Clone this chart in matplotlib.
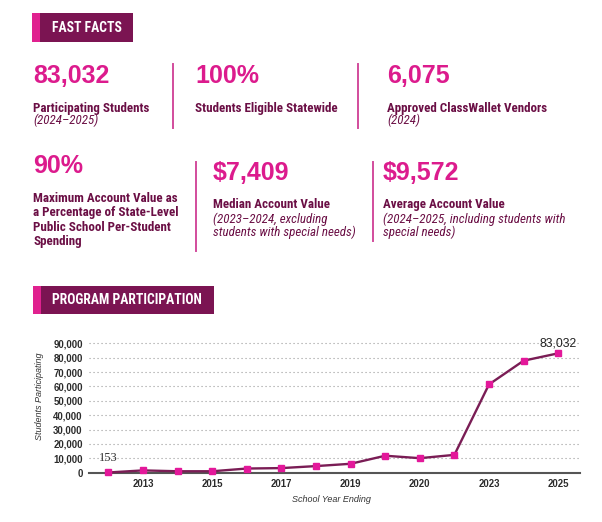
import matplotlib
matplotlib.use("Agg")
import numpy as np
import matplotlib.pyplot as plt
from matplotlib import font_manager as fm
from matplotlib.patches import Rectangle

# ---------------- data ----------------
fact_values = ["83,032", "100%", "6,075", "90%", "$7,409", "$9,572"]
fact_titles = [
    "Participating Students",
    "Students Eligible Statewide",
    "Approved ClassWallet Vendors",
    "Maximum Account Value as\na Percentage of State-Level\nPublic School Per-Student\nSpending",
    "Median Account Value",
    "Average Account Value",
]
fact_notes = [
    "(2024\u20132025)",
    "",
    "(2024)",
    "",
    "(2023\u20132024, excluding\nstudents with special needs)",
    "(2024\u20132025, including students with\nspecial needs)",
]
section_titles = ["FAST FACTS", "PROGRAM PARTICIPATION"]

participants = [153, 1600, 1000, 1000, 2900, 3200, 4600, 6200, 11800, 10100, 12400, 61400, 77900, 83032]
tick_positions = [1, 3, 5, 7, 9, 11, 13]
tick_labels = ["2013", "2015", "2017", "2019", "2020", "2023", "2025"]
y_ticks = list(range(0, 90001, 10000))
x_title = "School Year Ending"
y_title = "Students Participating"

# ---------------- fonts ----------------
plt.rcParams["font.family"] = ["Liberation Sans", "DejaVu Sans"]


def pick_font(cands, weight="normal", style="normal", stretch="normal"):
    for fam in cands:
        try:
            path = fm.findfont(fm.FontProperties(family=fam, weight=weight, style=style, stretch=stretch),
                               fallback_to_default=False)
            return fm.FontProperties(fname=path)
        except Exception:
            continue
    return fm.FontProperties(family="DejaVu Sans", weight=weight, style=style)


cond_cands = ["Liberation Sans Narrow", "Roboto Condensed", "DejaVu Sans Condensed", "DejaVu Sans"]
cond_bold = pick_font(cond_cands, weight="bold", stretch="condensed")
cond_ital = pick_font(cond_cands, weight="normal", style="italic", stretch="condensed")
big_font = pick_font(["Liberation Sans", "Roboto"], weight="bold")

# ---------------- figure ----------------
W, H = 602, 522
fig = plt.figure(figsize=(W / 100, H / 100), dpi=100)
fig.patch.set_facecolor("white")

MAROON = "#7b1452"
PINK = "#dc1b8d"
LABEL = "#6b0f45"
SEP = "#d24c9c"


def fx(x):
    return x / W


def fy(y):
    return 1 - y / H


def ftext(x, y, s, fp=None, size=10, **kw):
    kw.setdefault("va", "baseline")
    t = fig.text(fx(x), fy(y), s, **kw)
    if fp is not None:
        t.set_fontproperties(fp)
    t.set_fontsize(size)
    return t


def header(x0, x1, y0, y1, text):
    fig.add_artist(Rectangle((fx(x0), fy(y1)), fx(x1) - fx(x0), (y1 - y0) / H,
                             transform=fig.transFigure, facecolor=MAROON, edgecolor="none"))
    fig.add_artist(Rectangle((fx(x0), fy(y1)), fx(7.5), (y1 - y0) / H,
                             transform=fig.transFigure, facecolor="#e0218f", edgecolor="none"))
    ftext(52, (y0 + y1) / 2 + 0.5, text, fp=cond_bold, size=9.8, color="white", va="center", ha="left")


def vsep(x, y0, y1):
    fig.add_artist(plt.Line2D([fx(x), fx(x)], [fy(y0), fy(y1)], transform=fig.transFigure,
                              color=SEP, lw=1.4))


header(32, 133, 13, 42, section_titles[0])
header(33, 214, 286, 314, section_titles[1])

# layout for the six fact cells: (x, value baseline, title baseline, note baseline)
cells = [
    (33, 83, 112, 124.5),
    (195, 83, 112, 124.5),
    (387, 83, 112, 124.5),
    (33, 173, 202, 0),
    (213, 179.5, 208.5, 222.7),
    (383, 179.5, 208.5, 222.7),
]
for (x, yv, yt, yn), val, title, note in zip(cells, fact_values, fact_titles, fact_notes):
    ftext(x, yv, val, fp=big_font, size=18, color=PINK)
    for i, line in enumerate(title.split("\n")):
        ftext(x, yt + i * 14.4, line, fp=cond_bold, size=9.4, color=LABEL)
    if note:
        for i, line in enumerate(note.split("\n")):
            ftext(x, yn + i * 13.0, line, fp=cond_ital, size=9.4, color=LABEL)

vsep(173, 64, 128)
vsep(358, 64, 128)
vsep(196, 162, 251)
vsep(373, 162, 241)

# ---------------- chart ----------------
y0_px, y90_px = 472.7, 343.3
top_px = 335
left_px, right_px = 89, 580
ax = fig.add_axes([fx(left_px), fy(y0_px), (right_px - left_px) / W, (y0_px - top_px) / H])
ax.set_xlim(-0.56, 13.63)
ax.set_ylim(0, 90000 * (y0_px - top_px) / (y0_px - y90_px))

x = np.arange(len(participants))
ax.plot(x, participants, color="#7a1d55", lw=1.7, marker="s", ms=4.6,
        mfc="#e3189a", mec="#e3189a", zorder=3, clip_on=False)

ax.set_yticks(y_ticks)
ax.set_yticklabels([f"{v:,}" for v in y_ticks])
ax.set_xticks(tick_positions)
ax.set_xticklabels(tick_labels)
ax.tick_params(length=0, labelsize=6.9, labelcolor="#2b2b2b")
ax.tick_params(axis="y", pad=4.5)
ax.tick_params(axis="x", pad=4.5)
for lab in ax.get_xticklabels() + ax.get_yticklabels():
    lab.set_fontweight("bold")

ax.yaxis.grid(True, linestyle=(0, (1, 2.6)), color="#9a9a9a", lw=0.8)
ax.set_axisbelow(True)
for s in ["left", "top", "right"]:
    ax.spines[s].set_visible(False)
ax.spines["bottom"].set_color("#555555")
ax.spines["bottom"].set_linewidth(1.5)
ax.spines["bottom"].set_zorder(2)

ax.annotate(f"{participants[0]:,}", xy=(x[0], participants[0]), xytext=(0, 8),
            textcoords="offset points", ha="center", va="baseline",
            family=["Liberation Serif", "DejaVu Serif"], fontsize=9, color="#333333")
ax.annotate(f"{participants[-1]:,}", xy=(x[-1], participants[-1]), xytext=(0, 4.8),
            textcoords="offset points", ha="center", va="baseline",
            fontsize=8.8, color="#222222")

fig.text(fx(39), fy(396), y_title, rotation=90, ha="center", va="center",
         style="italic", fontsize=6.5, color="#333333")
fig.text(fx(331), fy(499), x_title, ha="center", va="center",
         style="italic", fontsize=6.5, color="#333333")

fig.savefig("out.png", dpi=100, facecolor="white")
